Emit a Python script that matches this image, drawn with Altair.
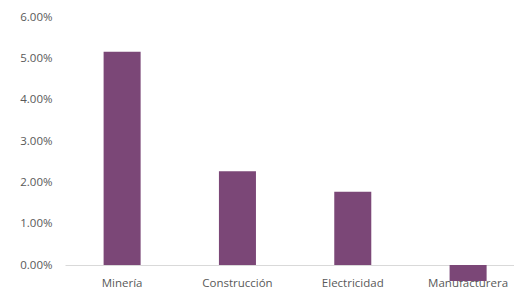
import altair as alt
import pandas as pd

categories = ["Minería", "Construcción", "Electricidad", "Manufacturera"]
values = [0.0516, 0.0227, 0.0177, -0.0039]

df = pd.DataFrame({"sector": categories, "valor": values})

bars = alt.Chart(df).mark_bar(color="#7B4777", clip=False).encode(
    x=alt.X(
        "sector:N",
        sort=categories,
        title=None,
        scale=alt.Scale(paddingInner=0.679, paddingOuter=0.2861, align=0.585, round=False),
        axis=alt.Axis(
            labelAngle=0,
            ticks=False,
            domainColor="#D9D9D9",
            domainWidth=1,
            labelPadding=12,
            labelFont="Open Sans",
            labelFontSize=11.5,
            labelColor="#595959",
            grid=False,
        ),
    ),
    y=alt.Y(
        "valor:Q",
        title=None,
        scale=alt.Scale(domain=[0, 0.06], nice=False, zero=False),
        axis=alt.Axis(
            format=".2%",
            values=[0, 0.01, 0.02, 0.03, 0.04, 0.05, 0.06],
            grid=False,
            domain=False,
            ticks=False,
            labelPadding=13,
            labelFont="Open Sans",
            labelFontSize=11.5,
            labelColor="#595959",
        ),
    ),
)

chart = bars.properties(
    width=449,
    height=248,
    padding={"left": 11, "top": 3, "right": 0, "bottom": 0},
    background="white",
).configure_view(stroke=None, strokeWidth=0)

chart.save("out.html", embed_options={"renderer": "svg", "actions": False})
